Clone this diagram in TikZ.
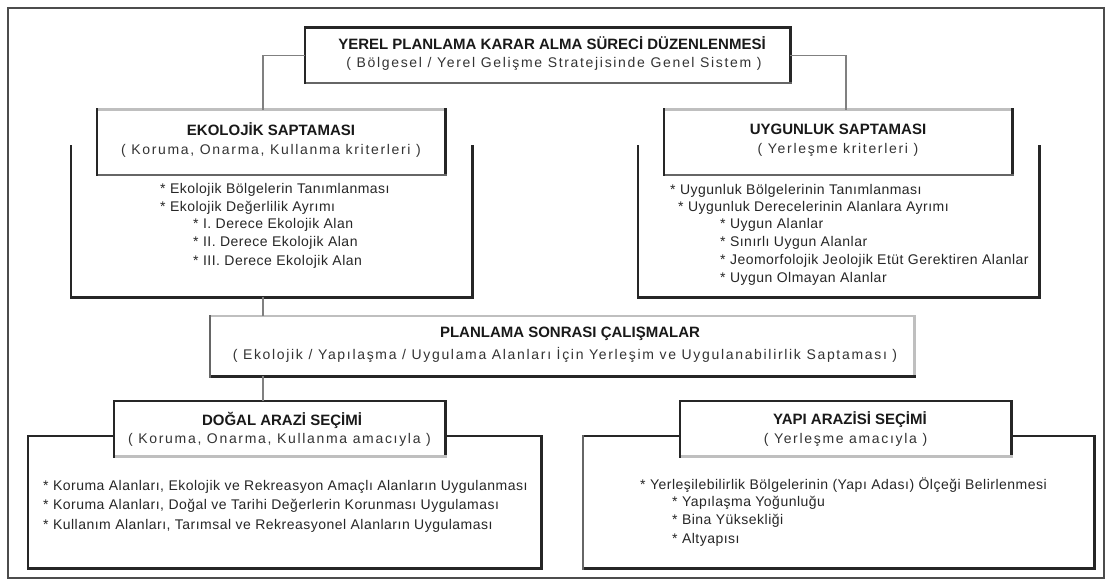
\documentclass[tikz,border=0pt]{standalone}
\usepackage{fontspec}
\setmainfont{Liberation Sans}
\newfontfamily\itemfont{Liberation Sans}[LetterSpace=3.5]
\newfontfamily\subfont{Liberation Sans}[LetterSpace=12]
\newcommand\boxsides[5]{%
  \draw[#2] (#1.north west) -- (#1.north east);
  \draw[#3] (#1.north east) -- (#1.south east);
  \draw[#4] (#1.south east) -- (#1.south west);
  \draw[#5] (#1.south west) -- (#1.north west);}
\begin{document}
\begin{tikzpicture}[x=1pt,y=-1pt,
  dk/.style={draw=black!85,line width=2.6pt,line cap=rect},
  lt/.style={draw=black!25,line width=2.6pt,line cap=rect},
  md/.style={draw=black!60,line width=2.6pt,line cap=rect},
  nn/.style={draw=none},
  conn/.style={draw=black!50,line width=1.6pt},
  frame/.style={draw=black!70,line width=1.2pt},
  bx/.style={inner sep=0pt,fill=white,minimum width=#1},
  ttl/.style={font=\bfseries\fontsize{15}{17}\selectfont,inner sep=0pt,text=black!90},
  sub/.style={font=\subfont\fontsize{14}{16}\selectfont,inner sep=0pt,text=black!80},
  item/.style={anchor=west,font=\itemfont\fontsize{14}{16}\selectfont,inner sep=0pt,text=black!85}]
\useasboundingbox (0,0) rectangle (1114,583);
\fill[white] (0,0) rectangle (1114,583);
\draw[frame] (8,8) rectangle (1104,578);

% ---------- top box
\node[bx=485pt,minimum height=55pt] (top) at (547.5,55.5) {};
\boxsides{top}{dk}{dk}{md}{dk}
\node[ttl] (toptitle) at (552,43) {YEREL PLANLAMA KARAR ALMA SÜRECİ DÜZENLENMESİ};
\node[sub] (topsub) at (554,64) {( Bölgesel / Yerel Gelişme Stratejisinde Genel Sistem )};

% ---------- left upper
\node[inner sep=0pt,minimum width=401pt,minimum height=150pt] (lo) at (271.5,222) {};
\boxsides{lo}{nn}{dk}{dk}{dk}
\node[bx=348pt,minimum height=65pt] (lt) at (271,142.5) {};
\boxsides{lt}{lt}{dk}{md}{dk}
\node[ttl] (lttitle) at (271,129) {EKOLOJİK SAPTAMASI};
\node[sub] (ltsub) at (271,151) {( Koruma, Onarma, Kullanma kriterleri )};
\node[item] (l1) at (160,190) {* Ekolojik Bölgelerin Tanımlanması};
\node[item] (l2) at (160,208) {* Ekolojik Değerlilik Ayrımı};
\node[item] (l3) at (193,225) {* I. Derece Ekolojik Alan};
\node[item] (l4) at (193,243) {* II. Derece Ekolojik Alan};
\node[item] (l5) at (193,262) {* III. Derece Ekolojik Alan};

% ---------- right upper
\node[inner sep=0pt,minimum width=401pt,minimum height=150pt] (ro) at (838.5,222) {};
\boxsides{ro}{nn}{dk}{dk}{dk}
\node[bx=348pt,minimum height=65pt] (rt) at (838,142.5) {};
\boxsides{rt}{lt}{dk}{md}{dk}
\node[ttl] (rttitle) at (838,129) {UYGUNLUK SAPTAMASI};
\node[sub] (rtsub) at (838,150) {( Yerleşme kriterleri )};
\node[item] (r1) at (670,191) {* Uygunluk Bölgelerinin Tanımlanması};
\node[item] (r2) at (678,208) {* Uygunluk Derecelerinin Alanlara Ayrımı};
\node[item] (r3) at (720,225) {* Uygun Alanlar};
\node[item] (r4) at (720,243) {* Sınırlı Uygun Alanlar};
\node[item] (r5) at (720,261) {* Jeomorfolojik Jeolojik Etüt Gerektiren Alanlar};
\node[item] (r6) at (720,279) {* Uygun Olmayan Alanlar};

% ---------- middle
\node[bx=704pt,minimum height=60pt] (mid) at (562,346) {};
\boxsides{mid}{lt}{lt}{dk}{md}
\node[ttl] (midtitle) at (570,334) {PLANLAMA SONRASI ÇALIŞMALAR};
\node[sub] (midsub) at (565,355) {( Ekolojik / Yapılaşma / Uygulama Alanları İçin Yerleşim ve Uygulanabilirlik Saptaması )};

% ---------- bottom left
\node[inner sep=0pt,minimum width=513pt,minimum height=132pt] (blo) at (284.5,502) {};
\boxsides{blo}{dk}{dk}{dk}{dk}
\node[bx=331pt,minimum height=55pt] (blt) at (279.5,428.5) {};
\boxsides{blt}{dk}{dk}{lt}{dk}
\node[ttl] (blttitle) at (282,420) {DOĞAL ARAZİ SEÇİMİ};
\node[sub] (bltsub) at (279.5,440) {( Koruma, Onarma, Kullanma amacıyla )};
\node[item] (b1) at (43,487) {* Koruma Alanları, Ekolojik ve Rekreasyon Amaçlı Alanların Uygulanması};
\node[item] (b2) at (43,506) {* Koruma Alanları, Doğal ve Tarihi Değerlerin Korunması Uygulaması};
\node[item] (b3) at (43,526) {* Kullanım Alanları, Tarımsal ve Rekreasyonel Alanların Uygulaması};

% ---------- bottom right
\node[inner sep=0pt,minimum width=511pt,minimum height=132pt] (bro) at (838.5,502) {};
\boxsides{bro}{dk}{dk}{dk}{md}
\node[bx=331pt,minimum height=55pt] (brt) at (845.5,428.5) {};
\boxsides{brt}{dk}{dk}{lt}{dk}
\node[ttl] (brttitle) at (850,420) {YAPI ARAZİSİ SEÇİMİ};
\node[sub] (brtsub) at (845.5,440) {( Yerleşme amacıyla )};
\node[item] (c1i) at (640,485) {* Yerleşilebilirlik Bölgelerinin (Yapı Adası) Ölçeği Belirlenmesi};
\node[item] (c2i) at (672,503) {* Yapılaşma Yoğunluğu};
\node[item] (c3i) at (672,521) {* Bina Yüksekliği};
\node[item] (c4i) at (672,540) {* Altyapısı};

% ---------- connectors
\coordinate (cl) at (263,55.5);
\coordinate (cr) at (846,55.5);
\draw[conn] (top.west) -- (cl) -- (cl |- lt.north);
\draw[conn] (top.east) -- (cr) -- (cr |- rt.north);
\draw[conn] (cl |- lo.south) -- (cl |- mid.north);
\draw[conn] (cl |- mid.south) -- (cl |- blt.north);
\end{tikzpicture}
\end{document}
